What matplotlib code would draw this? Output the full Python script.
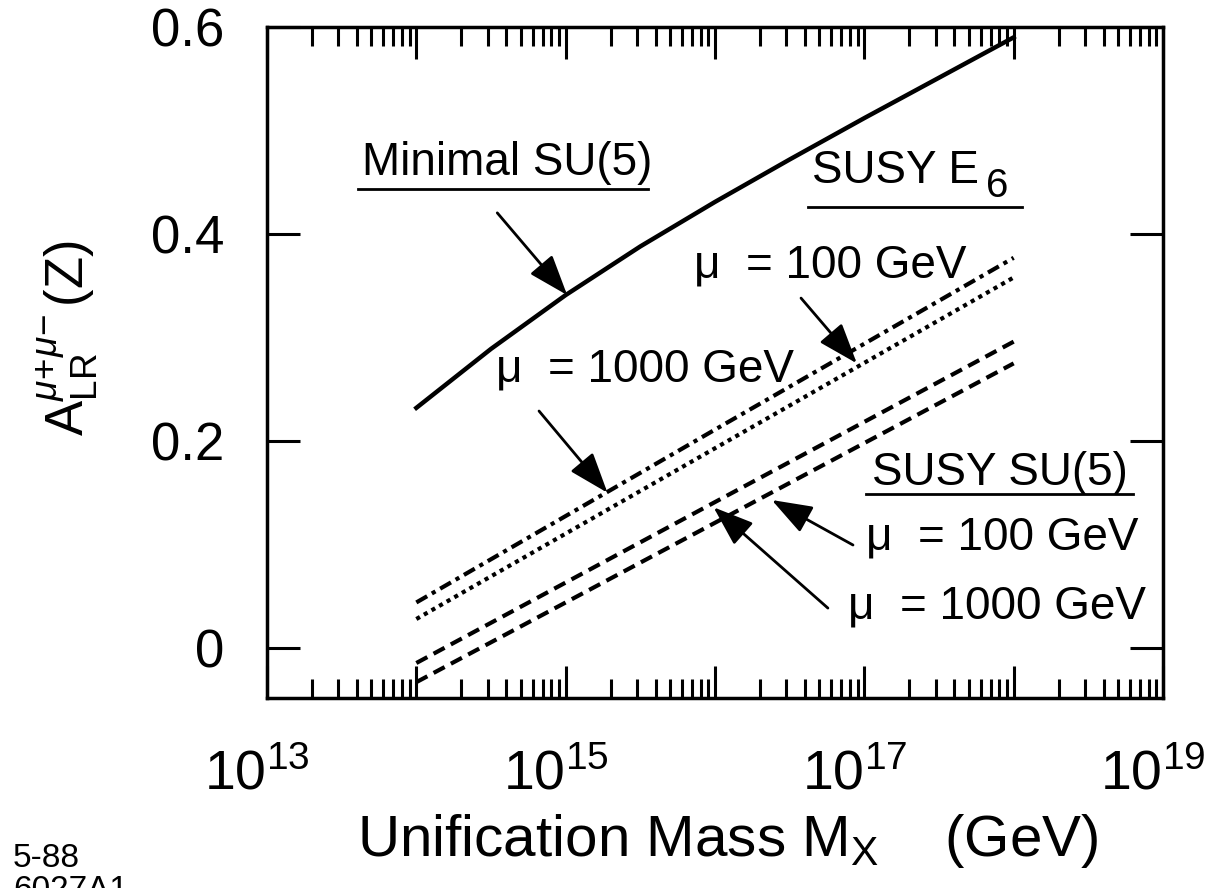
"""A_LR(Z) asymmetry versus unification mass."""

import matplotlib.pyplot as plt
import matplotlib.transforms as mtransforms
import numpy as np
from matplotlib.ticker import FixedLocator, FixedFormatter, LogLocator, NullFormatter

plt.rcParams['font.family'] = ['Liberation Sans', 'DejaVu Sans']
plt.rcParams['mathtext.fontset'] = 'custom'
plt.rcParams['mathtext.rm'] = 'Liberation Sans'
plt.rcParams['mathtext.it'] = 'Liberation Sans:italic'
plt.rcParams['mathtext.bf'] = 'Liberation Sans:bold'

# log10(M_X / GeV) and asymmetry
log_mx_minimal = [14, 14.5, 15, 15.5, 16, 16.5, 17, 17.5, 18]
a_minimal = [0.232, 0.289, 0.341, 0.388, 0.431, 0.472, 0.512, 0.551, 0.590]

log_mx_susy = [14, 16, 18]
a_e6_dashdot = [0.044, 0.211, 0.377]
a_e6_dotted = [0.028, 0.193, 0.358]
a_su5_upper = [-0.0145, 0.141, 0.296]
a_su5_lower = [-0.033, 0.121, 0.275]

x_decades = [13, 14, 15, 16, 17, 18, 19]
x_tick_labels = ['$10^{13}$', '', '$10^{15}$', '', '$10^{17}$', '', '$10^{19}$']
y_ticks = [0, 0.2, 0.4, 0.6]
y_tick_labels = ['0', '0.2', '0.4', '0.6']

if __name__ == "__main__":
    fig = plt.figure(figsize=(12.13, 8.88), dpi=100)
    ax = fig.add_axes([267 / 1213, 1 - 698 / 888, 896 / 1213, 671 / 888])

    ax.plot(10.0 ** np.array(log_mx_minimal), a_minimal, color='k', lw=3.2)
    mx = 10.0 ** np.array(log_mx_susy)
    ax.plot(mx, a_e6_dashdot, color='k', lw=3, ls=(0, (3, 1.3, 1, 1.3)))
    ax.plot(mx, a_e6_dotted, color='k', lw=3, ls=(0, (1, 1.1)))
    ax.plot(mx, a_su5_upper, color='k', lw=3, ls=(0, (3, 1.7)))
    ax.plot(mx, a_su5_lower, color='k', lw=3, ls=(0, (3, 1.7)))

    ax.set_xscale('log')
    ax.set_xlim(1e13, 1e19)
    ax.set_ylim(-0.0483, 0.6)

    ax.xaxis.set_major_locator(FixedLocator(10.0 ** np.array(x_decades)))
    ax.xaxis.set_major_formatter(FixedFormatter(x_tick_labels))
    ax.xaxis.set_minor_locator(LogLocator(base=10, subs=np.arange(2, 10), numticks=100))
    ax.xaxis.set_minor_formatter(NullFormatter())
    ax.tick_params(axis='x', which='major', direction='in', top=True,
                   length=23, width=2.2, labelsize=40, pad=37)
    ax.tick_params(axis='x', which='minor', direction='in', top=True,
                   length=13.5, width=2.2)
    ax.set_yticks(y_ticks, y_tick_labels)
    ax.tick_params(axis='y', direction='in', right=True,
                   length=24, width=2.2, labelsize=38, pad=31)
    for s in ax.spines.values():
        s.set_linewidth(2.5)

    # the printed exponent labels sit a little left of their ticks
    shift = mtransforms.ScaledTranslation(-0.1, 0, fig.dpi_scale_trans)
    for lab in ax.xaxis.get_majorticklabels():
        lab.set_transform(lab.get_transform() + shift)

    ax.set_ylabel(r'$\mathrm{A}_{\mathrm{LR}}^{\mu\!+\!\mu\!-}$(Z)', fontsize=38)
    ax.yaxis.set_label_coords(-0.186, 0.5365)
    ax.set_xlabel('Unification Mass M$_\\mathrm{X}$    (GeV)', fontsize=42)
    ax.xaxis.set_label_coords(0.5145, -0.17)

    # labels and underlines
    fs = 33
    ax.text(0.106, 0.779, 'Minimal SU(5)', transform=ax.transAxes, fontsize=fs)
    ax.plot([0.1016, 0.425], [0.7586, 0.7586], transform=ax.transAxes,
            color='k', lw=2, clip_on=False)
    ax.text(0.608, 0.7675, 'SUSY E', transform=ax.transAxes, fontsize=fs)
    ax.text(0.802, 0.7466, '6', transform=ax.transAxes, fontsize=29)
    ax.plot([0.604, 0.843], [0.7317, 0.7317], transform=ax.transAxes,
            color='k', lw=2, clip_on=False)
    ax.text(0.4766, 0.6274, 'μ  = 100 GeV', transform=ax.transAxes, fontsize=fs)
    ax.text(0.2556, 0.471, 'μ  = 1000 GeV', transform=ax.transAxes, fontsize=fs)
    ax.text(0.675, 0.3174, 'SUSY SU(5)', transform=ax.transAxes, fontsize=fs)
    ax.plot([0.6685, 0.9665], [0.304, 0.304], transform=ax.transAxes,
            color='k', lw=2, clip_on=False)
    ax.text(0.6685, 0.2206, 'μ  = 100 GeV', transform=ax.transAxes, fontsize=fs)
    ax.text(0.6484, 0.1192, 'μ  = 1000 GeV', transform=ax.transAxes, fontsize=fs)

    # arrows: tip in data, tail in axes fraction
    arrows = [
        ((10 ** 15.01, 0.341), (0.257, 0.723)),
        ((10 ** 16.95, 0.275), (0.596, 0.596)),
        ((10 ** 15.28, 0.150), (0.3036, 0.4277)),
        ((10 ** 16.38, 0.143), (0.654, 0.228)),
        ((10 ** 15.99, 0.136), (0.626, 0.134)),
    ]
    for tip, tail in arrows:
        ax.annotate('', xy=tip, xycoords='data', xytext=tail, textcoords='axes fraction',
                    arrowprops=dict(arrowstyle='-|>,head_length=1.25,head_width=0.45',
                                    mutation_scale=20, lw=2, color='k',
                                    shrinkA=0, shrinkB=0))

    fig.text(13 / 1213, 1 - 867 / 888, '5-88', fontsize=24)
    fig.text(13 / 1213, 1 - 899 / 888, '6027A1', fontsize=24)

    fig.savefig('out.png', dpi=100)
